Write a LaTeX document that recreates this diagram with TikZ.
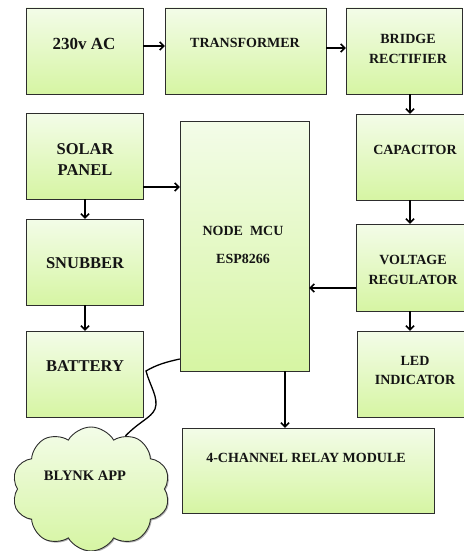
\documentclass[tikz,border=0pt]{standalone}
\usepackage{fontspec}
\setmainfont{Liberation Serif}
\usetikzlibrary{arrows.meta,shapes.symbols,shadows,calc}
\definecolor{boxtop}{RGB}{243,252,232}
\definecolor{boxbot}{RGB}{214,245,163}
\definecolor{boxline}{RGB}{45,45,45}
\definecolor{txt}{RGB}{20,20,20}
\begin{document}
\begin{tikzpicture}[x=1pt,y=-1pt,
  blk/.style={draw=boxline, line width=0.9pt, top color=boxtop, bottom color=boxbot,
    drop shadow={shadow xshift=1.2pt, shadow yshift=-1.2pt, opacity=0.35, fill=black}},
  lbl/.style={font=\bfseries, text=txt, inner sep=0pt, text height=0.66em, text depth=0pt},
  big/.style={lbl, font=\fontsize{16.5}{18}\selectfont\bfseries},
  mid/.style={lbl, font=\fontsize{14}{16}\selectfont\bfseries},
  arr/.style={draw=black, line width=1.6pt, -{Straight Barb[length=4pt,width=8pt,line width=1.5pt]}}
]
\useasboundingbox (0,0) rectangle (463,551);

% boxes
\path[blk] (26,8) rectangle (143,94);
\node[inner sep=0, minimum width=117pt, minimum height=86pt] (acb) at (84.5,51) {};
\node[lbl, font=\fontsize{17}{19}\selectfont\bfseries] (act) at (84,46) {230v AC};

\path[blk] (165,8) rectangle (326,94);
\node[inner sep=0, minimum width=161pt, minimum height=86pt] (tr) at (245.5,51) {};
\node[mid] (trt) at (245,44) {TRANSFORMER};

\path[blk] (346,8) rectangle (462,94);
\node[inner sep=0, minimum width=116pt, minimum height=86pt] (br) at (404,51) {};
\node[mid] (brt1) at (408,40) {BRIDGE};
\node[mid] (brt2) at (408,60) {RECTIFIER};

\path[blk] (26,113) rectangle (143,199);
\node[inner sep=0, minimum width=117pt, minimum height=86pt] (sp) at (84.5,156) {};
\node[big] (spt1) at (85,151) {SOLAR};
\node[big] (spt2) at (85,172) {PANEL};

\path[blk] (356,114) rectangle (464,200);
\node[inner sep=0, minimum width=108pt, minimum height=86pt] (cap) at (410,157) {};
\node[mid] (capt) at (415,151) {CAPACITOR};

\path[blk] (180,121) rectangle (309,371);
\node[inner sep=0, minimum width=129pt, minimum height=250pt] (mcu) at (244.5,246) {};
\node[mid] (mcut1) at (243,232) {NODE\ \ MCU};
\node[mid] (mcut2) at (243,260) {ESP8266};

\path[blk] (26,219) rectangle (143,305);
\node[inner sep=0, minimum width=117pt, minimum height=86pt] (sn) at (84.5,262) {};
\node[big] (snt) at (85,265) {SNUBBER};

\path[blk] (356,224) rectangle (464,311);
\node[inner sep=0, minimum width=108pt, minimum height=87pt] (vr) at (410,267.5) {};
\node[mid] (vrt1) at (413,261) {VOLTAGE};
\node[mid] (vrt2) at (413,281) {REGULATOR};

\path[blk] (26,331) rectangle (143,417);
\node[inner sep=0, minimum width=117pt, minimum height=86pt] (bat) at (84.5,374) {};
\node[big] (batt) at (85,368) {BATTERY};

\path[blk] (357,331) rectangle (464,417);
\node[inner sep=0, minimum width=107pt, minimum height=86pt] (led) at (410.5,374) {};
\node[mid] (ledt1) at (415,362) {LED};
\node[mid] (ledt2) at (415,381) {INDICATOR};

\path[blk] (182,428) rectangle (434,513);
\node[inner sep=0, minimum width=252pt, minimum height=85pt] (relay) at (308,470.5) {};
\node[mid] (relayt) at (306,459) {4-CHANNEL RELAY MODULE};

% cloud
\node[cloud, cloud puffs=10, cloud puff arc=120, aspect=1.27, draw=boxline, line width=0.9pt,
  top color=boxtop, bottom color=boxbot, minimum width=158pt, minimum height=124pt, inner sep=0pt,
  drop shadow={shadow xshift=1.2pt, shadow yshift=-1.2pt, opacity=0.3, fill=black}] (app) at (91,489) {};
\node[lbl, font=\fontsize{14.5}{16}\selectfont\bfseries] (appt) at (85,477) {BLYNK APP};

% connectors
\draw[arr] ([yshift=5pt]acb.east) -- ([yshift=5pt]tr.west);
\draw[arr] ([yshift=3pt]tr.west -| tr.east) -- ([yshift=3pt]br.west);
\draw[arr] (br.south -| cap.north) -- (cap.north);
\draw[arr] ([yshift=-31pt]sp.east) -- ([yshift=-31pt]sp.east -| mcu.west);
\draw[arr] ([xshift=0.5pt]sp.south) -- ([xshift=0.5pt]sn.north);
\draw[arr] ([xshift=0.5pt]sn.south) -- ([xshift=0.5pt]bat.north);
\draw[arr] (cap.south) -- (vr.north);
\draw[arr] ([yshift=-20.5pt]vr.west) -- ([yshift=-20.5pt]vr.west -| mcu.east);
\draw[arr] (vr.south) -- (vr.south |- led.north);
\draw[arr] ([xshift=40.5pt]mcu.south) -- ([xshift=40.5pt]mcu.south |- relay.north);
\draw[line width=1.3pt] ([yshift=-113pt]mcu.west) .. controls (166,362) and (156,365) .. (146,371)
  .. controls (150,386) and (159,398) .. (155,409)
  .. controls (151,418) and (140,421) .. (app.57);
\end{tikzpicture}
\end{document}
